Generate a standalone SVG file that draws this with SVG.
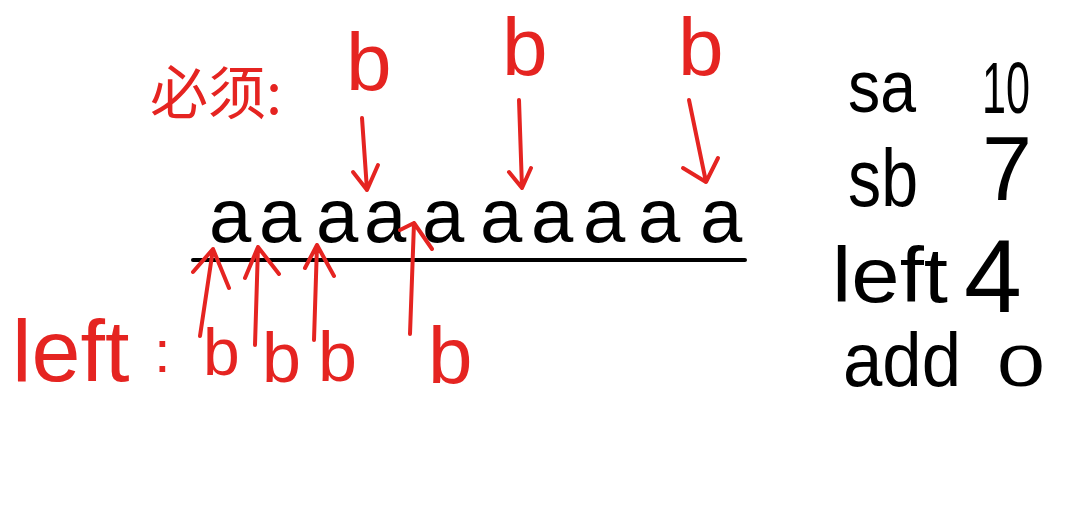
<svg xmlns="http://www.w3.org/2000/svg" width="1081" height="509" viewBox="0 0 1081 509">
<style>
.r{fill:#e52421;font-family:"Liberation Sans","Noto Sans CJK SC",sans-serif}
.k{fill:#000;font-family:"Liberation Sans",sans-serif}
.a{fill:none;stroke:#e52421;stroke-width:4;stroke-linecap:round;stroke-linejoin:round}
.ln{stroke:#000;stroke-width:4;stroke-linecap:round}
</style>
<rect width="1081" height="509" fill="#fff"/>
<g id="must-label"><text class="r" x="150" y="114" font-size="58" style="font-family:'Noto Sans CJK SC',sans-serif">必须:</text></g>
<g id="top-b">
<text class="r" x="346" y="90" font-size="82">b</text>
<text class="r" x="502" y="75" font-size="82">b</text>
<text class="r" x="678" y="75" font-size="82">b</text>
</g>
<g id="string">
<text class="k" font-size="76" y="242">
<tspan x="209">a</tspan><tspan x="259">a</tspan><tspan x="316">a</tspan><tspan x="364">a</tspan><tspan x="422">a</tspan><tspan x="480">a</tspan><tspan x="531">a</tspan><tspan x="583">a</tspan><tspan x="638">a</tspan><tspan x="700">a</tspan>
</text>
<line class="ln" x1="193" y1="260" x2="745" y2="260"/>
</g>
<g id="left-label">
<text class="r" x="12" y="381" font-size="88">left</text>
<text class="r" x="154" y="372" font-size="60">:</text>
<text class="r" x="203" y="375" font-size="66">b</text>
<text class="r" x="262" y="382" font-size="70">b</text>
<text class="r" x="318" y="381" font-size="70">b</text>
<text class="r" x="428" y="383" font-size="80">b</text>
</g>
<g id="connectors">
<path class="a" d="M362 118 L367 190 M353 172 L367 190 L378 165"/>
<path class="a" d="M519 100 L522 188 M509 172 L522 188 L531 168"/>
<path class="a" d="M689 100 L706 182 M683 168 L706 182 L718 158"/>
<path class="a" d="M200 336 L213 249 M193 272 L213 249 L229 288"/>
<path class="a" d="M255 345 L258 247 M245 278 L258 247 L279 274"/>
<path class="a" d="M314 340 L317 245 M305 268 L317 245 L334 276"/>
<path class="a" d="M410 334 L414 223 M400 230 L414 223 L432 249"/>
</g>
<g id="vars">
<text class="k" x="848" y="112" font-size="74" textLength="68" lengthAdjust="spacingAndGlyphs">sa</text>
<text class="k" x="982" y="113" font-size="72" textLength="48" lengthAdjust="spacingAndGlyphs">10</text>
<text class="k" x="848" y="206" font-size="82" textLength="70" lengthAdjust="spacingAndGlyphs">sb</text>
<text class="k" x="982" y="200" font-size="90">7</text>
<text class="k" x="832" y="302" font-size="78" textLength="116" lengthAdjust="spacingAndGlyphs">left</text>
<text class="k" x="964" y="312" font-size="104">4</text>
<text class="k" x="997" y="386" font-size="58" textLength="48" lengthAdjust="spacingAndGlyphs">0</text>
<text class="k" x="843" y="386" font-size="76" textLength="118" lengthAdjust="spacingAndGlyphs">add</text>
</g>
</svg>
